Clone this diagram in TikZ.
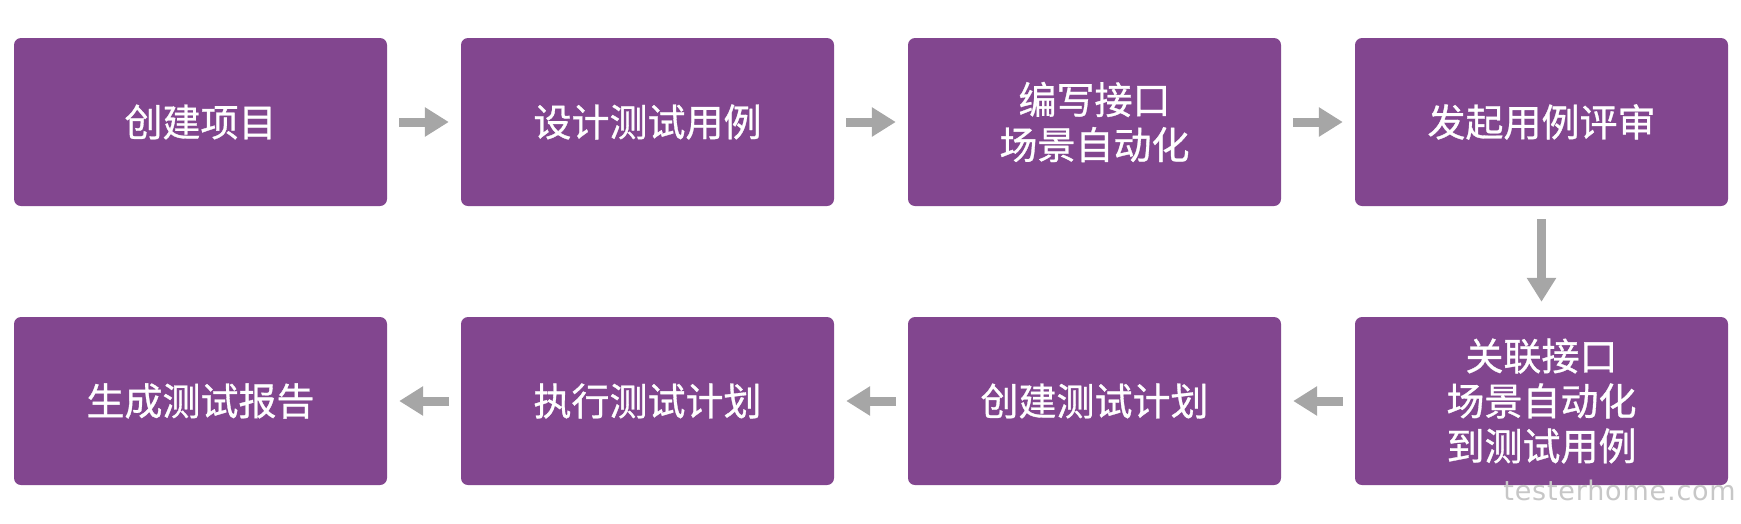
\documentclass[tikz,border=0pt]{standalone}
\usepackage{fontspec}
\newfontfamily\cjk[FakeBold=0.8]{Noto Sans CJK SC}
\newfontfamily\wmfont[LetterSpace=3]{DejaVu Sans}
\usetikzlibrary{arrows.meta}
\definecolor{boxpurple}{HTML}{82468F}
\definecolor{arrgray}{HTML}{A6A6A6}
\begin{document}
\begin{tikzpicture}[x=1pt,y=-1pt,
  stepbox/.style={fill=boxpurple, rounded corners=7pt, minimum width=373pt, minimum height=168pt,
    inner sep=0pt, text=white, align=center, font=\cjk\fontsize{38pt}{45pt}\selectfont},
  flow/.style={draw=arrgray, line width=9pt, -{Triangle[length=24pt,width=28pt]}}]
\useasboundingbox (0,0) rectangle (1741,523);
\clip (0,0) rectangle (1741,523);
\node[stepbox] (b1) at (200.5,122) {创建项目};
\node[stepbox] (b2) at (647.5,122) {设计测试用例};
\node[stepbox] (b3) at (1094.5,122) {编写接口\\场景自动化};
\node[stepbox] (b4) at (1541.5,122) {发起用例评审};
\node[stepbox] (b5) at (1541.5,401) {关联接口\\场景自动化\\到测试用例};
\node[stepbox] (b6) at (1094.5,401) {创建测试计划};
\node[stepbox] (b7) at (647.5,401) {执行测试计划};
\node[stepbox] (b8) at (200.5,401) {生成测试报告};
\draw[flow] ([xshift=12pt]b1.east) -- ([xshift=-12pt]b2.west);
\draw[flow] ([xshift=12pt]b2.east) -- ([xshift=-12pt]b3.west);
\draw[flow] ([xshift=12pt]b3.east) -- ([xshift=-12pt]b4.west);
\draw[flow] ([yshift=-13pt]b4.south) -- ([yshift=15pt]b5.north);
\draw[flow] ([xshift=-12pt]b5.west) -- ([xshift=12pt]b6.east);
\draw[flow] ([xshift=-12pt]b6.west) -- ([xshift=12pt]b7.east);
\draw[flow] ([xshift=-12pt]b7.west) -- ([xshift=12pt]b8.east);
\node[anchor=base east, inner sep=0pt, text=black!22, font=\wmfont\fontsize{27pt}{27pt}\selectfont] (wm) at (1736,500) {testerhome.com};
\end{tikzpicture}
\end{document}
